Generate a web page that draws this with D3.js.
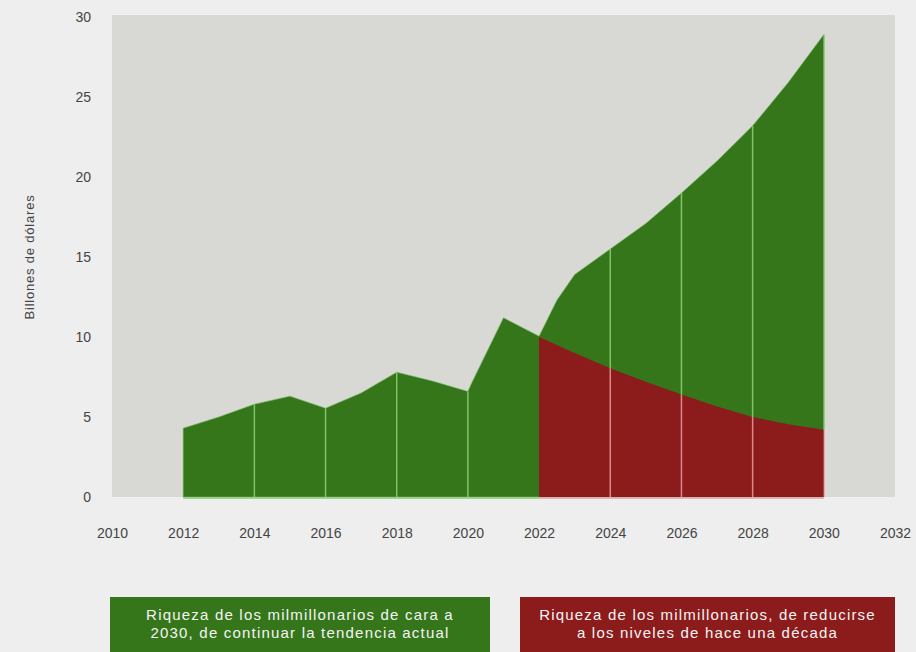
<!DOCTYPE html>
<html><head><meta charset="utf-8">
<script src="https://cdn.jsdelivr.net/npm/d3@7/dist/d3.min.js"></script>
<style>
html,body{margin:0;padding:0;background:#eeeeee;}
svg{display:block;}
text{font-family:"Liberation Sans",Arial,sans-serif;}
</style></head>
<body>
<svg id="chart" width="916" height="652"></svg>
<script>
// ---- data ----
const greenYears  = [2012, 2013, 2014, 2015, 2016, 2017, 2018, 2019, 2020, 2020.1, 2021, 2022, 2022.1, 2022.5, 2023, 2024, 2025, 2026, 2027, 2028, 2029, 2030];
const greenValues = [4.3, 5.0, 5.8, 6.3, 5.55, 6.5, 7.8, 7.25, 6.6, 7.1, 11.2, 10.05, 10.5, 12.3, 13.9, 15.5, 17.1, 19.0, 21.0, 23.2, 25.9, 28.9];
const redYears  = [2022, 2023, 2024, 2025, 2026, 2027, 2028, 2029, 2030];
const redValues = [10.0, 9.0, 8.05, 7.2, 6.4, 5.65, 5.0, 4.55, 4.2];
const xTicks = [2010, 2012, 2014, 2016, 2018, 2020, 2022, 2024, 2026, 2028, 2030, 2032];
const yTicks = [0, 5, 10, 15, 20, 25, 30];
const gridYears = [2014, 2016, 2018, 2020, 2024, 2026, 2028];
const yTitle = "Billones de dólares";
const legendGreen = ["Riqueza de los milmillonarios de cara a", "2030, de continuar la tendencia actual"];
const legendRed = ["Riqueza de los milmillonarios, de reducirse", "a los niveles de hace una década"];

// ---- layout ----
const svg = d3.select("#chart");
const x = d3.scaleLinear().domain([2010, 2032]).range([112, 895]);
const y = d3.scaleLinear().domain([0, 30]).range([497, 17]);
const GREEN = "#35761b", RED = "#8c1b1b", BG = "#d8d8d5";

svg.append("rect").attr("x", x(2010)).attr("y", 15).attr("width", x(2032) - x(2010)).attr("height", y(0) - 15).attr("fill", BG);

const green = greenYears.map((yr, i) => ({yr, v: greenValues[i]}));
const red = redYears.map((yr, i) => ({yr, v: redValues[i]}));

const area = d3.area().x(d => x(d.yr)).y0(y(0)).y1(d => y(d.v));

svg.append("path").datum(green).attr("d", area).attr("fill", GREEN)
  .attr("stroke", "#6fb85a").attr("stroke-width", 1).attr("stroke-opacity", 0.6);
svg.append("path").datum(red).attr("d", area).attr("fill", RED);

// bottom highlight lines
svg.append("line").attr("x1", x(2012)).attr("x2", x(2022)).attr("y1", y(0) + 1).attr("y2", y(0) + 1)
  .attr("stroke", "#86cc72").attr("stroke-width", 1.5);
svg.append("line").attr("x1", x(2022)).attr("x2", x(2030)).attr("y1", y(0) + 1).attr("y2", y(0) + 1)
  .attr("stroke", "#e2a0a0").attr("stroke-width", 1.5);

// vertical light lines inside the areas
const gv = yr => greenValues[greenYears.indexOf(yr)];
const rv = yr => { const i = redYears.indexOf(yr); return i < 0 ? 0 : redValues[i]; };
gridYears.forEach(yr => {
  const r = rv(yr);
  if (r > 0) {
    svg.append("line").attr("x1", x(yr)).attr("x2", x(yr)).attr("y1", y(0)).attr("y2", y(r))
      .attr("stroke", "#d98a8a").attr("stroke-width", 1.5);
  }
  svg.append("line").attr("x1", x(yr)).attr("x2", x(yr)).attr("y1", y(r)).attr("y2", y(gv(yr)))
    .attr("stroke", "#7fc46a").attr("stroke-width", 1.5);
});
// right edge highlight at 2030
svg.append("line").attr("x1", x(2030) + 0.5).attr("x2", x(2030) + 0.5).attr("y1", y(0)).attr("y2", y(rv(2030)))
  .attr("stroke", "#e8a8a8").attr("stroke-width", 1.2);
svg.append("line").attr("x1", x(2030) + 0.5).attr("x2", x(2030) + 0.5).attr("y1", y(rv(2030))).attr("y2", y(gv(2030)))
  .attr("stroke", "#8fd07a").attr("stroke-width", 1.2);

// axes
const xAxis = svg.append("g").attr("transform", `translate(0,${y(0) + 34})`)
  .call(d3.axisBottom(x).tickValues(xTicks).tickFormat(d3.format("d")).tickSize(0));
xAxis.select(".domain").remove();
xAxis.selectAll("text").attr("font-size", 14).attr("fill", "#444").attr("dy", "0.32em");

const yAxis = svg.append("g").attr("transform", `translate(${x(2010) - 18},0)`)
  .call(d3.axisLeft(y).tickValues(yTicks).tickSize(0));
yAxis.select(".domain").remove();
yAxis.selectAll("text").attr("font-size", 14).attr("fill", "#444");

svg.append("text").attr("transform", `translate(34,${y(15)}) rotate(-90)`)
  .attr("text-anchor", "middle").attr("font-size", 13).attr("fill", "#444")
  .attr("letter-spacing", 0.8).text(yTitle);

// legend boxes
function legendBox(x0, x1, color, lines) {
  svg.append("rect").attr("x", x0).attr("y", 597).attr("width", x1 - x0).attr("height", 60).attr("fill", color);
  lines.forEach((t, i) => {
    svg.append("text").attr("x", (x0 + x1) / 2).attr("y", 620 + i * 18)
      .attr("text-anchor", "middle").attr("font-size", 15).attr("fill", "#f4f4f4")
      .attr("letter-spacing", 1.2).text(t);
  });
}
legendBox(110, 490, GREEN, legendGreen);
legendBox(520, 895, RED, legendRed);
</script>
</body></html>
